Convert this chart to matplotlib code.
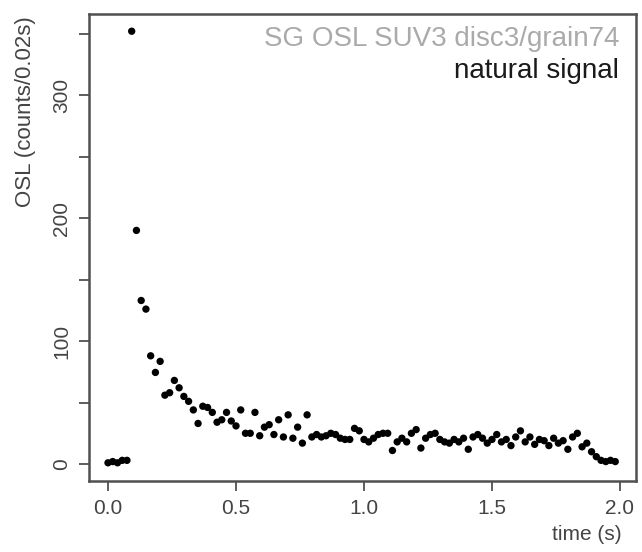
import numpy as np
import matplotlib
matplotlib.use("Agg")
import matplotlib.pyplot as plt

plt.rcParams['font.family'] = ['Liberation Sans', 'DejaVu Sans']

# channel index -> time (s); 108 channels over the 2 s stimulation
channel_step = 2 / 108
counts = [1, 2, 1, 3, 3, 352, 190, 133, 126, 88,
          74.5, 83.5, 56, 58, 68, 62, 55, 51, 44, 33,
          47, 46, 42, 34, 36, 42, 35, 31, 44, 25,
          25, 42, 23, 30, 32, 24, 36, 22, 40, 21,
          30, 17, 40, 22, 24, 22, 23, 25, 24, 21,
          20, 20, 29, 27, 20, 18, 21, 24, 25, 25,
          11, 18, 21, 18, 25, 28, 13, 21, 24, 25,
          20, 18, 17, 20, 18, 21, 12, 22, 24, 21,
          17, 20, 24, 18, 20, 15, 22, 27, 18, 22,
          16, 20, 19, 15, 21, 17, 19, 12, 22, 25,
          14, 17, 10, 6, 3, 2, 3, 2]
time_s = np.arange(len(counts)) * channel_step

x_ticks = [0.0, 0.5, 1.0, 1.5, 2.0]
x_ticklabels = ["0.0", "0.5", "1.0", "1.5", "2.0"]
y_ticks = [0, 50, 100, 150, 200, 250, 300, 350]
y_ticklabels = ["0", "", "100", "", "200", "", "300", ""]

W, H = 642, 552
fig = plt.figure(figsize=(W / 100, H / 100), dpi=100)
left, right, top, bottom = 89, 636, 14, 481
ax = fig.add_axes([left / W, 1 - bottom / H, (right - left) / W, (bottom - top) / H])

ax.scatter(time_s, counts, s=28, color='black', edgecolors='none', zorder=3)

ax.set_xlim(-0.0742, 2.0625)
ax.set_ylim(-13.8, 366)

axis_col = '#505050'
text_col = '#444444'
for sp in ax.spines.values():
    sp.set_color(axis_col)
    sp.set_linewidth(1.8)

ax.set_xticks(x_ticks)
ax.set_xticklabels(x_ticklabels)
ax.set_yticks(y_ticks)
ax.set_yticklabels(y_ticklabels, rotation=90, va='center')
ax.tick_params(axis='both', direction='out', length=7, width=1.3, color=axis_col,
               labelcolor=text_col, labelsize=15, pad=6)

fig.text(26 / W, 1 - 112 / H, "OSL (counts/0.02s)", rotation=90, ha='center', va='center',
         fontsize=16, color=text_col)
fig.text(622 / W, 1 - 535 / H, "time (s)", ha='right', va='center', fontsize=15, color=text_col)

ax.text(0.969, 0.946, "SG OSL SUV3 disc3/grain74", transform=ax.transAxes,
        ha='right', va='center', fontsize=20, color='#aaaaaa')
ax.text(0.969, 0.878, "natural signal", transform=ax.transAxes,
        ha='right', va='center', fontsize=20, color='#1a1a1a')

fig.savefig("out.png", dpi=100)
